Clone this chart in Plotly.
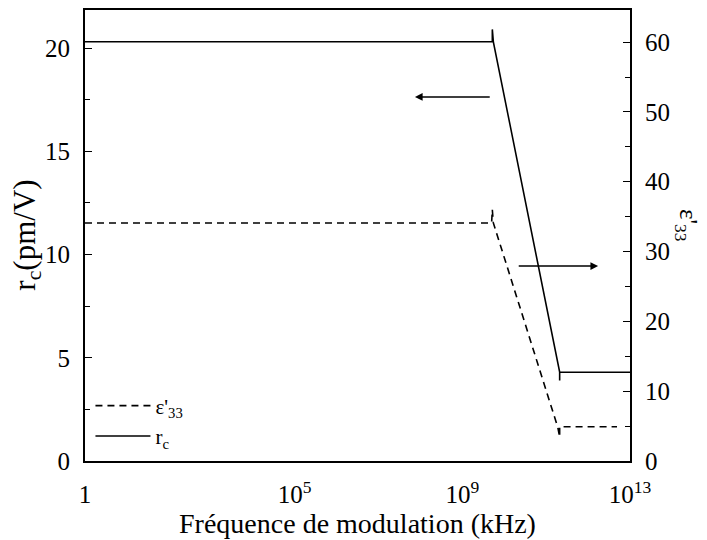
import plotly.graph_objects as go

# frequencies in kHz
freq_rc = [1, 5.2e9, 5.2e9, 5.5e9, 2.1e11, 2.1e11, 2.1e11, 1e13]
rc_values = [20.3, 20.3, 20.9, 20.3, 4.3, 3.9, 4.3, 4.3]

freq_eps = [1, 5.0e9, 5.2e9, 5.5e9, 1.9e11, 2.1e11, 2.1e11, 4.9e12]
eps_values = [34.1, 34.1, 36.0, 34.1, 4.8, 3.4, 4.9, 4.9]

x_tickvals = [1, 1e5, 1e9, 1e13]
x_ticktext = ["1", "10<sup>5</sup>", "10<sup>9</sup>", "10<sup>13</sup>"]

font = "Times New Roman, Liberation Serif, serif"

fig = go.Figure()
fig.add_trace(go.Scatter(x=freq_eps, y=eps_values, yaxis="y2", mode="lines",
                         name="ε'<sub>33</sub>",
                         line=dict(color="black", width=1.6, dash="7px,5px")))
fig.add_trace(go.Scatter(x=freq_rc, y=rc_values, mode="lines",
                         name="r<sub>c</sub>",
                         line=dict(color="black", width=1.6)))

axis_common = dict(showgrid=False, zeroline=False, showline=True, linecolor="black",
                   linewidth=2, ticks="inside", tickcolor="black", automargin=False,
                   tickfont=dict(family=font, size=25, color="black"))

# page body adds an 8px offset, margins compensate for it
fig.update_layout(
    width=707, height=540,
    margin=dict(l=77, r=85, t=2, b=87),
    paper_bgcolor="white", plot_bgcolor="white",
    font=dict(family=font, color="black"),
    showlegend=True,
    legend=dict(x=0.01, y=0.01, xanchor="left", yanchor="bottom",
                bgcolor="rgba(0,0,0,0)", font=dict(family=font, size=21, color="black"),
                tracegroupgap=0, itemwidth=55),
    xaxis=dict(type="log", range=[0, 13], tickvals=x_tickvals, ticktext=x_ticktext,
               mirror=True, ticklen=0, ticklabelstandoff=10,
               title=dict(text="Fréquence de modulation (kHz)", standoff=4,
                          font=dict(family=font, size=28, color="black")),
               **axis_common),
    yaxis=dict(range=[0, 21.84], tickvals=[0, 5, 10, 15, 20], ticklen=7,
               minor=dict(tickvals=[2.5, 7.5, 12.5, 17.5], ticks="inside", ticklen=5,
                          tickcolor="black"),
               ticklabelstandoff=8,
               **axis_common),
    yaxis2=dict(range=[0, 64.6], overlaying="y", side="right",
                tickvals=[0, 10, 20, 30, 40, 50, 60], ticklen=7,
                minor=dict(tickvals=[5, 15, 25, 35, 45, 55], ticks="inside", ticklen=5,
                           tickcolor="black"),
                ticklabelstandoff=8,
                **axis_common),
)

# axis titles placed like the original figure
fig.add_annotation(text="r<sub>c</sub>(pm/V)", xref="paper", yref="paper", x=-0.108, y=0.5,
                   xanchor="center", yanchor="middle",
                   textangle=-90, showarrow=False,
                   font=dict(family=font, size=31, color="black"))
fig.add_annotation(text="ε'<sub>33</sub>", xref="paper", yref="paper", x=1.105, y=0.523,
                   xanchor="center", yanchor="middle",
                   textangle=90, showarrow=False,
                   font=dict(family=font, size=25, color="black"))

# arrows pointing to each axis
fig.add_annotation(x=7.87, y=17.63, ax=9.69, ay=17.63, xref="x", yref="y", axref="x", ayref="y",
                   text="", showarrow=True, arrowhead=2, arrowsize=1.1, arrowwidth=1.4,
                   arrowcolor="black")
fig.add_annotation(x=12.24, y=9.44, ax=10.31, ay=9.44, xref="x", yref="y", axref="x", ayref="y",
                   text="", showarrow=True, arrowhead=2, arrowsize=1.1, arrowwidth=1.4,
                   arrowcolor="black")

fig.write_html("out.html")
